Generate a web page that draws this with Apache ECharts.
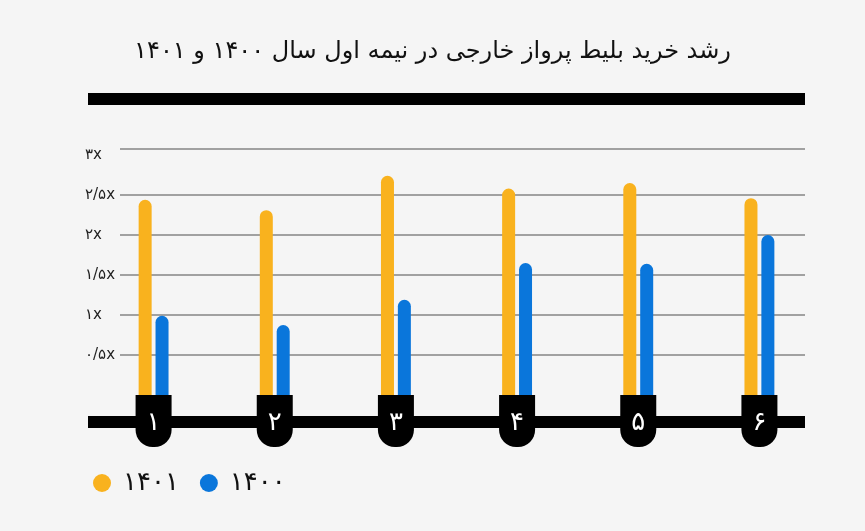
<!DOCTYPE html>
<html>
<head>
<meta charset="utf-8">
<script src="https://cdn.jsdelivr.net/npm/echarts@6/dist/echarts.min.js"></script>
<style>
html,body{margin:0;padding:0;background:#f5f5f5;}
#c{width:865px;height:531px;}
</style>
</head>
<body>
<div id="c"></div>
<script>
var titleText = 'رشد خرید بلیط پرواز خارجی در نیمه اول سال ۱۴۰۰ و ۱۴۰۱';
var categories = ['۱', '۲', '۳', '۴', '۵', '۶'];
var seriesNames = ['۱۴۰۱', '۱۴۰۰'];
var values1401 = [2.44, 2.31, 2.74, 2.58, 2.65, 2.46];
var values1400 = [0.99, 0.875, 1.19, 1.65, 1.64, 2.0];
var yTickValues = [0.5, 1, 1.5, 2, 2.5, 3];
var yTickLabels = ['۰/۵x', '۱x', '۱/۵x', '۲x', '۲/۵x', '۳x'];

var FONT = 'DejaVu Sans';
var YMAX = 3.075;
var GRID_TOP = 149, GRID_BOTTOM = 136;
var grey = '#858585', none = 'rgba(0,0,0,0)';

var chart = echarts.init(document.getElementById('c'));
chart.setOption({
  backgroundColor: '#f5f5f5',
  animation: false,
  title: {
    text: titleText,
    left: 'center',
    top: 35,
    textStyle: { fontFamily: FONT, fontSize: 24, fontWeight: 'normal', color: '#111' }
  },
  legend: {
    left: 88,
    top: 465,
    icon: 'circle',
    itemWidth: 18,
    itemHeight: 18,
    itemGap: 21,
    data: seriesNames,
    textStyle: { fontFamily: FONT, fontSize: 26, color: '#111', padding: [0, 0, 0, 7] }
  },
  graphic: [
    { type: 'rect', z: -10, shape: { x: 88, y: 93, width: 717, height: 12 }, style: { fill: '#000' } },
    { type: 'rect', z: -10, shape: { x: 88, y: 416, width: 717, height: 12 }, style: { fill: '#000' } }
  ],
  grid: [
    { left: 120, right: 60, top: GRID_TOP, bottom: GRID_BOTTOM },
    { left: 93, right: 45, top: GRID_TOP, bottom: GRID_BOTTOM }
  ],
  xAxis: [
    { gridIndex: 0, type: 'value', show: false, min: 0, max: 1 },
    {
      gridIndex: 1, type: 'category', data: categories, z: 10,
      axisLine: { show: false }, axisTick: { show: false },
      axisLabel: {
        margin: 0,
        color: '#fff',
        fontFamily: FONT,
        fontSize: 26,
        backgroundColor: '#000',
        width: 36,
        height: 52,
        lineHeight: 56,
        align: 'center',
        borderRadius: [0, 0, 17, 17]
      }
    }
  ],
  yAxis: [
    {
      gridIndex: 0, type: 'value', min: 0, max: YMAX, interval: 0.5,
      axisLine: { show: false }, axisTick: { show: false },
      axisLabel: {
        margin: 35, align: 'left', color: '#222', fontFamily: FONT, fontSize: 15,
        formatter: function (v) {
          for (var i = 0; i < yTickValues.length; i++) {
            if (Math.abs(yTickValues[i] - v) < 1e-6) return yTickLabels[i];
          }
          return '';
        }
      },
      splitLine: { lineStyle: { width: 1.5, color: [none, grey, grey, grey, grey, grey, none, grey] } }
    },
    { gridIndex: 1, type: 'value', min: 0, max: YMAX, show: false, splitLine: { show: false } }
  ],
  series: [
    {
      name: seriesNames[0], type: 'bar', xAxisIndex: 1, yAxisIndex: 1,
      data: values1401, barWidth: 13, barGap: '30%',
      itemStyle: { color: '#F9B21E', borderRadius: [6.5, 6.5, 0, 0] }
    },
    {
      name: seriesNames[1], type: 'bar', xAxisIndex: 1, yAxisIndex: 1,
      data: values1400, barWidth: 13, barGap: '30%',
      itemStyle: { color: '#0A76DB', borderRadius: [6.5, 6.5, 0, 0] }
    }
  ]
});
</script>
</body>
</html>
